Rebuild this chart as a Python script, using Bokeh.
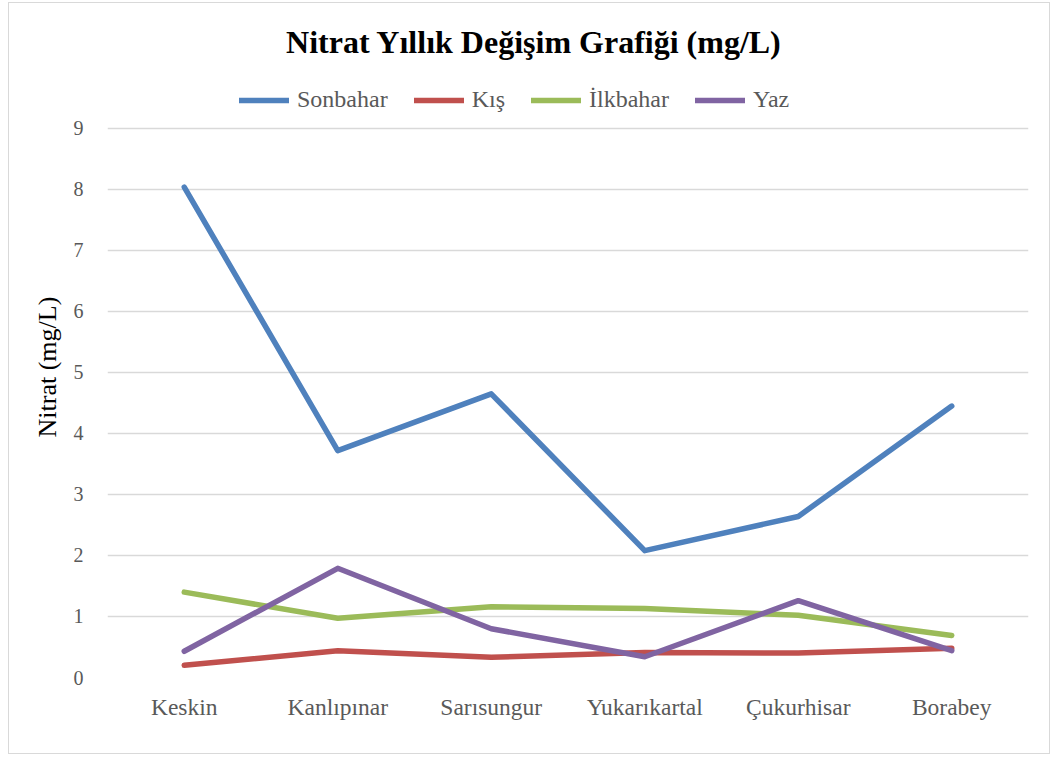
from bokeh.plotting import figure
from bokeh.models import Range1d, FactorRange, FixedTicker, Legend, LegendItem, Title, Label
from bokeh.embed import file_html
from bokeh.resources import INLINE

categories = ["Keskin", "Kanlıpınar", "Sarısungur", "Yukarıkartal", "Çukurhisar", "Borabey"]
sonbahar = [8.04, 3.72, 4.65, 2.08, 2.64, 4.45]
kis = [0.20, 0.44, 0.33, 0.41, 0.40, 0.48]
ilkbahar = [1.40, 0.97, 1.16, 1.13, 1.02, 0.69]
yaz = [0.43, 1.79, 0.80, 0.34, 1.26, 0.44]
series_names = ["Sonbahar", "Kış", "İlkbahar", "Yaz"]
series_colors = ["#4F81BD", "#C0504D", "#9BBB59", "#8064A2"]
y_ticks = [0, 1, 2, 3, 4, 5, 6, 7, 8, 9]
title_text = "Nitrat Yıllık Değişim Grafiği (mg/L)"
y_title = "Nitrat (mg/L)"

FONT = "Liberation Serif"

# frame extends above the top gridline so the title and legend can sit inside it;
# gridlines/ticks are only drawn at 0..9
p = figure(
    width=1042, height=752,
    x_range=FactorRange(factors=categories, range_padding=0),
    y_range=Range1d(0, 10.967),
    output_backend="svg", toolbar_location=None, title=None,
    min_border_left=98, min_border_right=23, min_border_top=5, min_border_bottom=78,
)
p.styles = {"border": "1px solid #d9d9d9", "margin-left": "8px", "margin-top": "2px"}
p.outline_line_color = None
p.background_fill_color = "white"
p.border_fill_color = "white"

p.xgrid.grid_line_color = None
p.ygrid.grid_line_color = "#d9d9d9"
p.ygrid.grid_line_width = 1.5

p.yaxis.ticker = FixedTicker(ticks=y_ticks)
for ax in (p.xaxis, p.yaxis):
    ax.axis_line_color = None
    ax.major_tick_line_color = None
    ax.minor_tick_line_color = None
    ax.major_label_text_font = FONT
    ax.major_label_text_color = "#595959"
p.yaxis.major_label_text_font_size = "20px"
p.yaxis.major_label_standoff = 18
p.xaxis.major_label_text_font_size = "23.5px"
p.xaxis.major_label_standoff = 10

items = []
for name, vals, col in zip(series_names, [sonbahar, kis, ilkbahar, yaz], series_colors):
    r = p.line(categories, vals, line_color=col, line_width=5.5,
               line_join="round", line_cap="round")
    items.append(LegendItem(label=name, renderers=[r]))

legend = Legend(
    items=items, orientation="horizontal", location=(132, 564),
    glyph_width=50, glyph_height=20, label_standoff=8, spacing=26,
    padding=0, margin=0, border_line_color=None, background_fill_alpha=0,
    label_text_font=FONT, label_text_font_size="24px", label_text_color="#595959",
    label_text_baseline="middle",
)
p.add_layout(legend, "center")

p.add_layout(Label(x=426.5, y=636, x_units="screen", y_units="screen", text=title_text,
                   text_font=FONT, text_font_size="32px", text_font_style="bold",
                   text_color="black", text_align="center", text_baseline="middle"))

ytitle = Title(text=y_title, align="left", offset=240, text_font=FONT,
               text_font_size="26px", text_font_style="normal", text_color="black",
               standoff=17)
p.add_layout(ytitle, "left")

open("out.html", "w").write(file_html(p, INLINE))
